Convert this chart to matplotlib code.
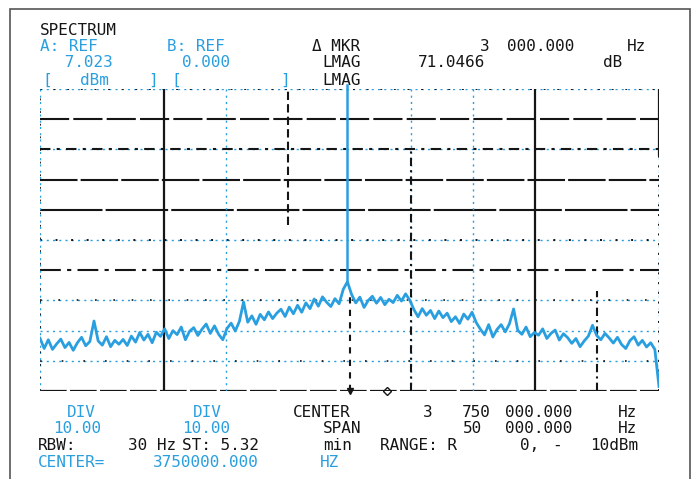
import numpy as np
import matplotlib.pyplot as plt
from matplotlib.patches import Rectangle

# analyzer settings
REF = 7.023      # dBm at top of screen
DIV = 10.0       # dB / div
SPAN = 50.0      # kHz
MKR_F = 0.0      # marker, kHz from centre
DMKR_F = 3.0     # delta marker, kHz from centre

# trace in dBm left to right
trace = [
    -75.5, -78.9, -76.0, -79.2, -77.4, -75.8, -78.6, -76.9, -79.5, -77.0,
    -75.2, -78.0, -76.6, -69.8, -76.4, -77.8, -75.0, -78.3, -76.2, -77.5,
    -75.9, -77.9, -74.8, -76.8, -73.6, -76.1, -74.2, -77.0, -73.5, -74.9,
    -72.4, -75.6, -73.0, -74.3, -71.8, -76.0, -73.2, -72.0, -74.6, -72.5,
    -70.8, -73.9, -71.4, -74.2, -76.0, -72.3, -70.5, -73.1, -69.9, -63.5,
    -70.2, -68.1, -70.9, -67.6, -69.4, -66.8, -69.0, -67.2, -65.9, -68.3,
    -65.2, -67.4, -64.6, -66.9, -63.8, -65.7, -62.5, -64.9, -61.8, -63.6,
    -65.0, -62.4, -64.1, -59.3, -56.8, -61.0, -63.8, -61.9, -65.3, -63.0,
    -61.6, -63.9, -62.0, -64.4, -62.6, -63.7, -61.3, -63.2, -60.8, -62.9,
    -66.0, -68.4, -65.7, -67.9, -66.3, -69.0, -66.5, -68.7, -67.2, -70.0,
    -68.4, -70.6, -67.5, -69.2, -66.9, -70.3, -72.5, -74.4, -71.0, -75.1,
    -72.6, -71.0, -73.4, -70.7, -65.8, -72.9, -74.2, -71.8, -75.0, -73.6,
    -74.5, -72.4, -75.6, -73.9, -72.8, -76.1, -74.0, -75.3, -77.2, -75.6,
    -78.3, -76.4, -74.8, -71.2, -74.6, -76.0, -73.9, -75.4, -77.1, -75.2,
    -77.6, -78.9, -76.3, -75.0, -77.8, -76.2, -78.4, -77.0, -79.2, -91.5,
]

W, H = 696, 479
BLUE = "#2a9fe0"
INK = "#151515"

fig = plt.figure(figsize=(W / 100, H / 100), dpi=100)

def put(x, y, s, c=INK):
    # x, y in screen pixels (y from top, baseline)
    fig.text(x / W, 1 - y / H, s, color=c, family="DejaVu Sans Mono",
             fontsize=11.5, va="baseline", ha="left")

# outer frame of the printout
fig.patches.append(Rectangle((10 / W, -0.05), 680 / W, 1 - 9 / H + 0.05,
                             transform=fig.transFigure, fill=False,
                             ec="#555555", lw=1.2))

ax = fig.add_axes([40 / W, 1 - 391 / H, 619 / W, 302 / H])
ax.set_xlim(-SPAN / 2, SPAN / 2)
ax.set_ylim(REF - 10 * DIV, REF)
ax.axis("off")

# graticule (scan is patchy, so each line has its own look)
def hl(k, c, ls, lw):
    ax.axhline(REF - k * DIV, color=c, ls=ls, lw=lw, zorder=1)

def vl(j, c, ls, lw, lo=0, hi=1):
    ax.axvline(-SPAN / 2 + j * SPAN / 10, ymin=lo, ymax=hi, color=c, ls=ls, lw=lw, zorder=1)

for k in [0, 2, 5, 7, 8, 9]:
    hl(k, BLUE, (0, (1.5, 3)), 1.0)
hl(0, INK, (0, (1, 6)), 1.4)
hl(1, INK, (0, (14, 2)), 1.5)
hl(2, INK, (0, (5, 3, 1.5, 3)), 1.5)
hl(3, INK, (0, (18, 1.5)), 1.5)
hl(4, INK, (0, (30, 1.5)), 1.5)
hl(5, INK, (0, (1, 7)), 1.4)
hl(6, INK, (0, (10, 3, 2, 3)), 1.5)
hl(7, INK, (0, (1, 10)), 1.2)
hl(9, INK, (0, (1, 12)), 1.2)
hl(10, INK, (0, (12, 1.5)), 1.6)

for j in [0, 3, 6, 7, 10]:
    vl(j, BLUE, (0, (1.5, 3)), 1.0)
vl(0, INK, (0, (1, 6)), 1.3)
vl(2, INK, "-", 1.6)
vl(4, INK, (0, (4, 2)), 1.5, 0.55, 1)
vl(5, INK, (0, (3, 3)), 1.5, 0, 0.32)
vl(6, INK, (0, (4, 2, 1, 2)), 1.5, 0, 0.8)
vl(8, INK, "-", 1.6)
vl(9, INK, (0, (4, 2, 1, 2)), 1.5, 0, 0.33)
vl(10, INK, "-", 1.6, 0.78, 1)
vl(10, INK, (0, (1, 4)), 1.4, 0, 0.78)

# trace
freq = np.linspace(-SPAN / 2, SPAN / 2, len(trace))
ax.plot(freq, trace, color=BLUE, lw=2.0, zorder=3)

# marker line up to the top of the screen
mi = int(np.argmin(np.abs(freq - MKR_F)))
ax.plot([freq[mi], freq[mi]], [trace[mi], REF + 1.3], color=BLUE, lw=1.8,
        zorder=4, clip_on=False)
ax.plot(MKR_F, REF - 10 * DIV, marker="v", color=INK, ms=5, clip_on=False, zorder=5)
ax.plot(DMKR_F, REF - 10 * DIV, marker="D", mfc="none", mec=INK, ms=4,
        clip_on=False, zorder=5)

# header
put(40, 35, "SPECTRUM")
put(40, 51, "A: REF", BLUE)
put(167, 51, "B: REF", BLUE)
put(312, 51, "Δ MKR")
put(480, 51, "3")
put(507, 51, "000.000")
put(627, 51, "Hz")
put(55, 67, " 7.023", BLUE)
put(182, 67, "0.000", BLUE)
put(322, 67, "LMAG")
put(418, 67, "71.0466")
put(603, 67, "dB")
put(42, 85, "[", BLUE)
put(80, 85, "dBm", BLUE)
put(148, 85, "]", BLUE)
put(171, 85, "[", BLUE)
put(280, 85, "]", BLUE)
put(322, 85, "LMAG")

# footer
put(67, 417, "DIV", BLUE)
put(193, 417, "DIV", BLUE)
put(293, 417, "CENTER")
put(423, 417, "3")
put(462, 417, "750")
put(505, 417, "000.000")
put(618, 417, "Hz")
put(53, 433, "10.00", BLUE)
put(182, 433, "10.00", BLUE)
put(323, 433, "SPAN")
put(463, 433, "50")
put(505, 433, "000.000")
put(618, 433, "Hz")
put(38, 450, "RBW:")
put(128, 450, "30 Hz")
put(182, 450, "ST: 5.32")
put(323, 450, "min")
put(380, 450, "RANGE: R")
put(520, 450, "0,")
put(552, 450, "-")
put(590, 450, "10dBm")
put(38, 467, "CENTER=", BLUE)
put(153, 467, "3750000.000", BLUE)
put(320, 467, "HZ", BLUE)

fig.savefig("out.png", dpi=100)
